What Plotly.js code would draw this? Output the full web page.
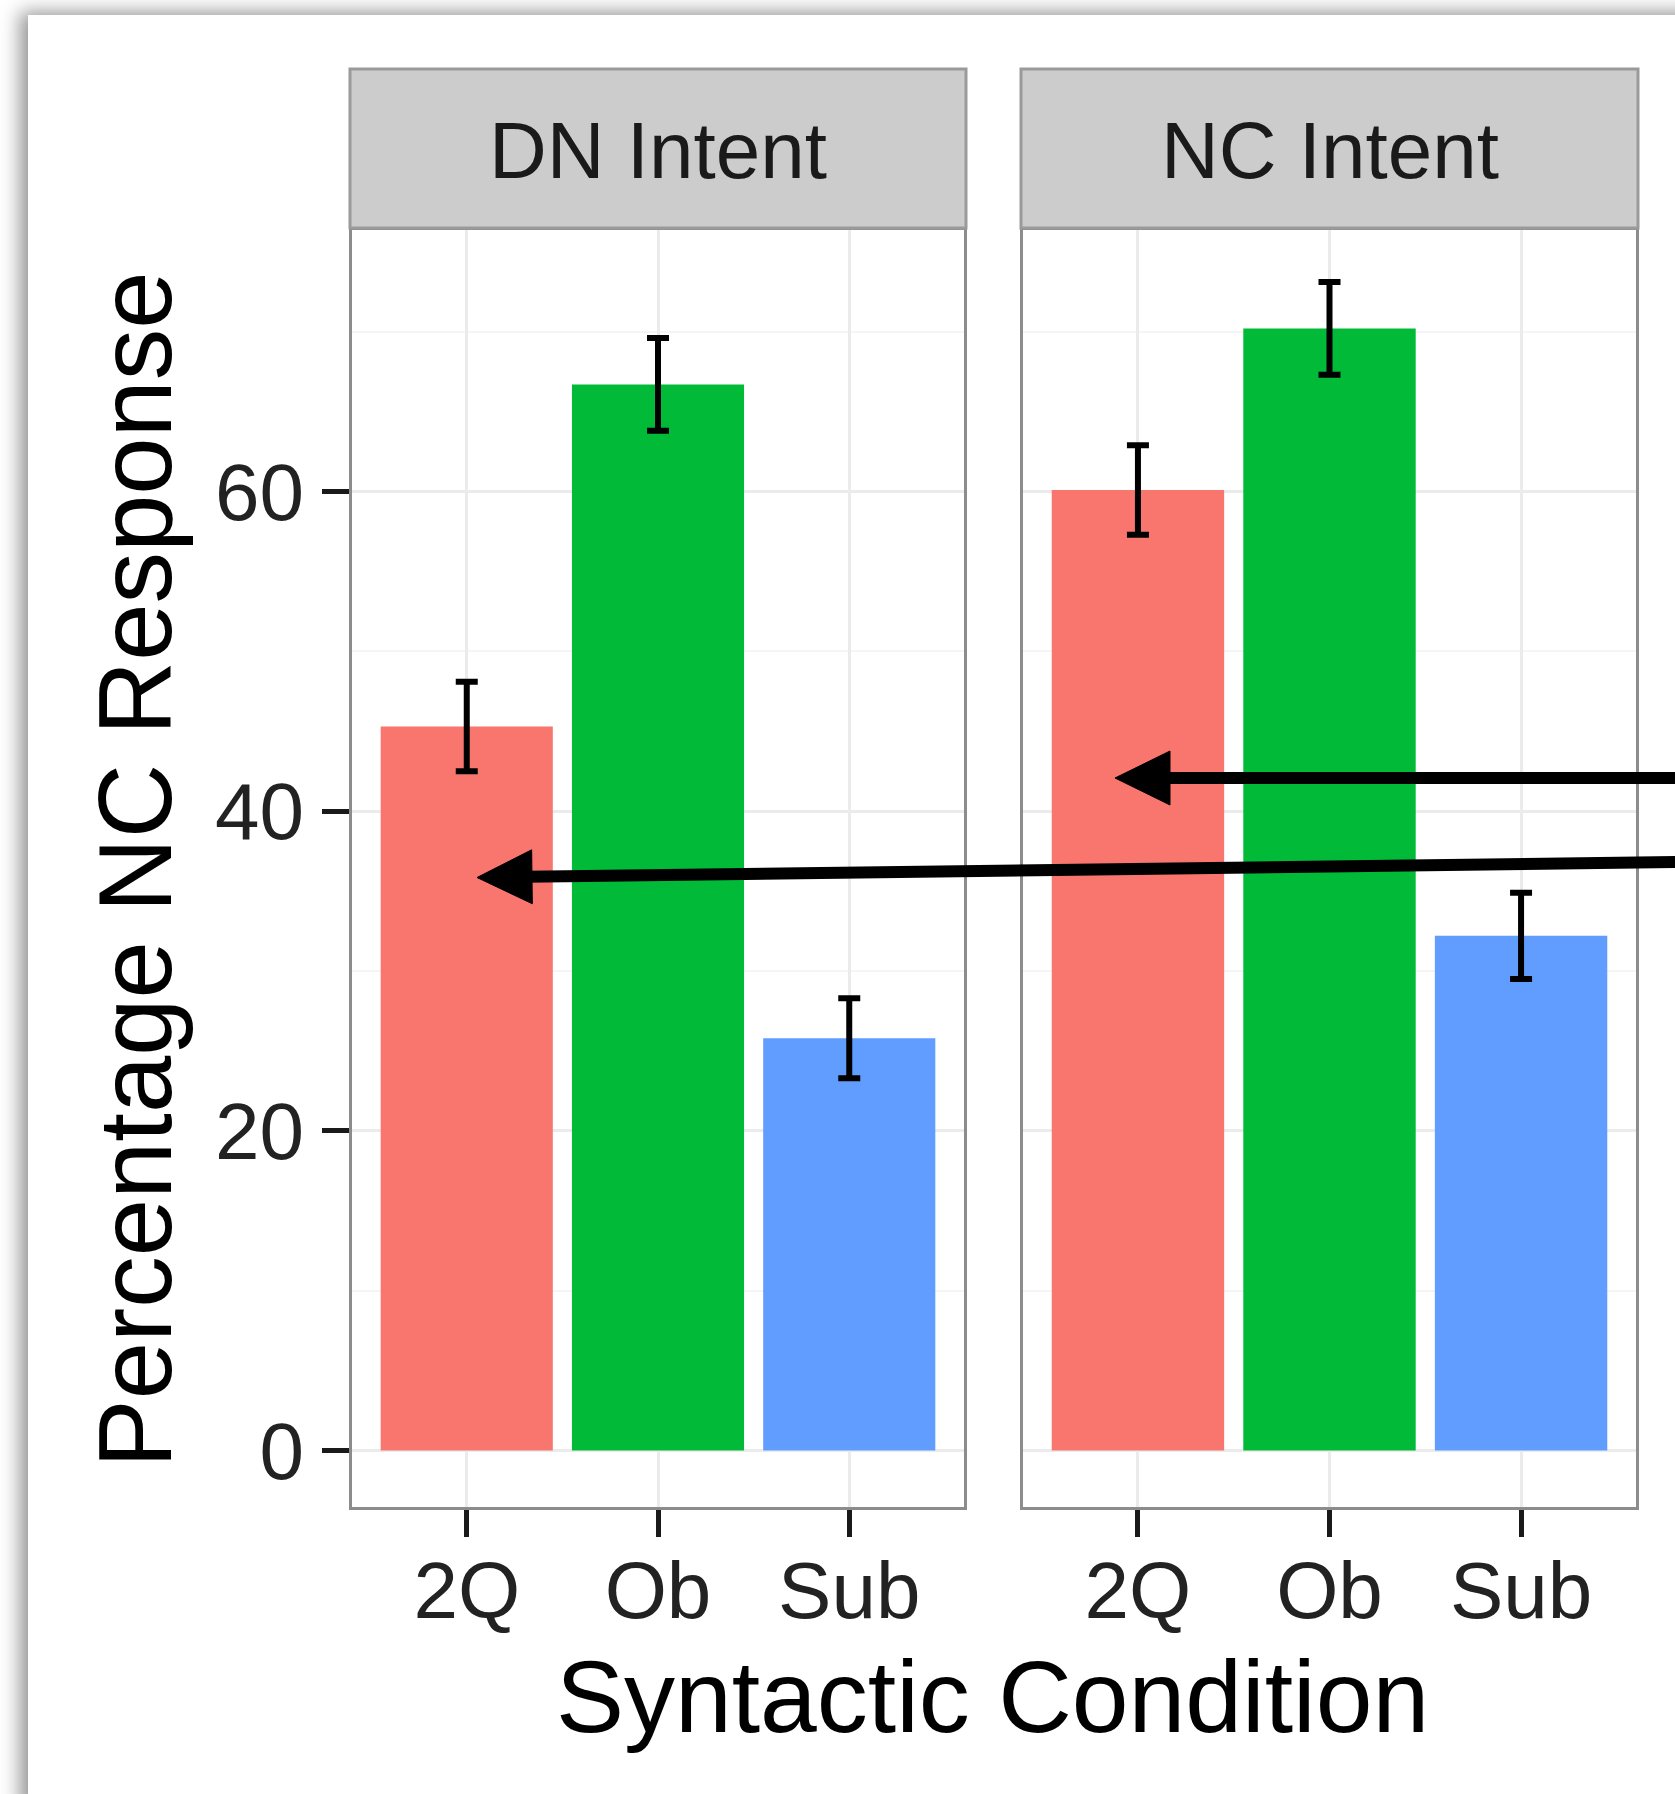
<!DOCTYPE html>
<html>
<head>
<meta charset="utf-8">
<script src="https://cdn.plot.ly/plotly-3.0.1.min.js"></script>
<style>
  html, body { margin: 0; padding: 0; background: #ffffff; }
  #wrap { position: relative; width: 1675px; height: 1794px; overflow: hidden; background: #ffffff; }
  #card { position: absolute; left: 28px; top: 15px; width: 1700px; height: 1800px; background: #ffffff;
          box-shadow: -8px -3px 18px rgba(0,0,0,0.42); }
  #plot { position: absolute; left: 0; top: 0; width: 1675px; height: 1794px; }
</style>
</head>
<body>
<div id="wrap">
  <div id="card"></div>
  <div id="plot"></div>
</div>
<script>
// ---- data ----
const categories = ['2Q', 'Ob', 'Sub'];
const panelLabels = ['DN Intent', 'NC Intent'];
const dnMeans = [45.3, 66.7, 25.8];
const dnErrors = [2.8, 2.9, 2.5];
const ncMeans = [60.1, 70.2, 32.2];
const ncErrors = [2.8, 2.9, 2.7];
const barColors = ['#F8766D', '#00BA38', '#619CFF'];
const yTickValues = [0, 20, 40, 60];
const yMinorValues = [10, 30, 50, 70];
const xTitle = 'Syntactic Condition';
const yTitle = 'Percentage NC Response';

// ---- layout helpers (figure pixels -> paper fractions) ----
const W = 1675, H = 1794;
const px = v => v / W;
const py = v => 1 - v / H;

const FONT = 'Liberation Sans, Arial, Helvetica, sans-serif';
const panel1 = [352, 964];
const panel2 = [1023, 1636];
const panelTop = 230, panelBottom = 1507;

function bar(means, errs, xa, ya) {
  return {
    type: 'bar', x: categories, y: means, xaxis: xa, yaxis: ya, width: 0.9,
    marker: { color: barColors, line: { width: 0 } },
    error_y: { type: 'data', array: errs, visible: true, color: '#000000', thickness: 6, width: 11 },
    hoverinfo: 'x+y', showlegend: false
  };
}

const data = [
  bar(dnMeans, dnErrors, 'x', 'y'),
  bar(ncMeans, ncErrors, 'x2', 'y2')
];

function xAxis(domain, anchor) {
  return {
    domain: [px(domain[0]), px(domain[1])], anchor: anchor, type: 'category',
    range: [-0.6, 2.6], showgrid: true, gridcolor: '#EBEBEB', gridwidth: 3,
    showline: true, mirror: true, linecolor: '#8c8c8c', linewidth: 3,
    ticks: 'outside', ticklen: 27, tickwidth: 5, tickcolor: '#1a1a1a',
    ticklabelstandoff: -15,
    tickfont: { family: FONT, size: 80, color: '#222222' }, zeroline: false, fixedrange: true
  };
}
function yAxis(anchor, labels) {
  const a = {
    domain: [py(panelBottom), py(panelTop)], anchor: anchor,
    range: [-3.53, 76.36], tickmode: 'array', tickvals: yTickValues,
    showgrid: true, gridcolor: '#EBEBEB', gridwidth: 3,
    minor: { tickmode: 'array', tickvals: yMinorValues, showgrid: true, gridcolor: '#F5F5F5', gridwidth: 2, ticks: '' },
    showline: true, mirror: true, linecolor: '#8c8c8c', linewidth: 3,
    zeroline: false, fixedrange: true,
    tickfont: { family: FONT, size: 80, color: '#222222' }
  };
  if (labels) {
    a.ticks = 'outside'; a.ticklen = 27; a.tickwidth = 5; a.tickcolor = '#1a1a1a';
    a.ticklabelstandoff = 2;
  } else {
    a.ticks = ''; a.showticklabels = false; a.matches = 'y';
  }
  return a;
}

// strips
const shapes = [];
[panel1, panel2].forEach(p => {
  shapes.push({ type: 'rect', xref: 'paper', yref: 'paper', layer: 'above',
    x0: px(p[0] - 2), x1: px(p[1] + 2), y0: py(228), y1: py(69),
    fillcolor: '#CCCCCC', line: { color: '#9a9a9a', width: 3 } });
});

// arrows (tip, tail in figure pixels)
const arrows = [
  { tip: [1115, 778], tail: [1680, 778] },
  { tip: [477, 877.5], tail: [1680, 862] }
];
arrows.forEach(a => {
  const dx = a.tail[0] - a.tip[0], dy = a.tail[1] - a.tip[1];
  const L = Math.hypot(dx, dy), ux = dx / L, uy = dy / L;
  const hl = 55, hw = 27;
  const bx = a.tip[0] + ux * hl, by = a.tip[1] + uy * hl;
  const lx = a.tip[0] + ux * (hl - 6), ly = a.tip[1] + uy * (hl - 6);
  shapes.push({ type: 'line', xref: 'paper', yref: 'paper', layer: 'above',
    x0: px(lx), y0: py(ly), x1: px(a.tail[0]), y1: py(a.tail[1]),
    line: { color: '#000000', width: 12 } });
  const c1 = [bx - uy * hw, by + ux * hw], c2 = [bx + uy * hw, by - ux * hw];
  shapes.push({ type: 'path', xref: 'paper', yref: 'paper', layer: 'above',
    path: `M${px(a.tip[0])},${py(a.tip[1])} L${px(c1[0])},${py(c1[1])} L${px(c2[0])},${py(c2[1])} Z`,
    fillcolor: '#000000', line: { color: '#000000', width: 1 } });
});

const annotations = [
  { text: panelLabels[0], xref: 'paper', yref: 'paper', x: px((panel1[0] + panel1[1]) / 2), y: py(151),
    xanchor: 'center', yanchor: 'middle', showarrow: false, font: { family: FONT, size: 80, color: '#1a1a1a' } },
  { text: panelLabels[1], xref: 'paper', yref: 'paper', x: px((panel2[0] + panel2[1]) / 2), y: py(151),
    xanchor: 'center', yanchor: 'middle', showarrow: false, font: { family: FONT, size: 80, color: '#1a1a1a' } },
  { text: xTitle, xref: 'paper', yref: 'paper', x: px(993), y: py(1697),
    xanchor: 'center', yanchor: 'middle', showarrow: false, font: { family: FONT, size: 102, color: '#000000' } },
  { text: yTitle, xref: 'paper', yref: 'paper', x: px(135), y: py(870), textangle: -90,
    xanchor: 'center', yanchor: 'middle', showarrow: false, font: { family: FONT, size: 103, color: '#000000' } }
];

const layout = {
  width: W, height: H, autosize: false,
  margin: { l: 0, r: 0, t: 0, b: 0, pad: 0 },
  paper_bgcolor: 'rgba(0,0,0,0)', plot_bgcolor: '#ffffff',
  font: { family: FONT },
  xaxis: xAxis(panel1, 'y'),
  xaxis2: xAxis(panel2, 'y2'),
  yaxis: yAxis('x', true),
  yaxis2: yAxis('x2', false),
  shapes: shapes, annotations: annotations,
  bargap: 0.1, showlegend: false
};

Plotly.newPlot('plot', data, layout, { staticPlot: true, displayModeBar: false });
</script>
</body>
</html>
